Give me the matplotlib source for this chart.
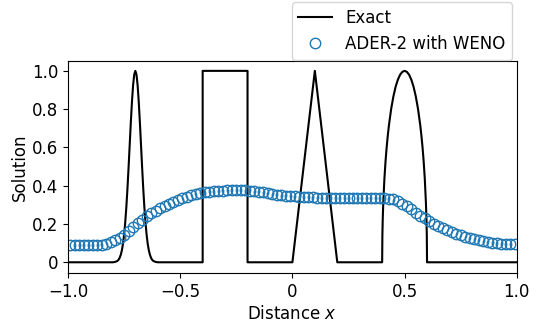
import matplotlib
matplotlib.use("Agg")
import matplotlib.pyplot as plt
import numpy as np

# точки точного решения
gauss_x = [-0.80, -0.79, -0.78, -0.775, -0.77, -0.765, -0.76, -0.755, -0.75, -0.745,
           -0.74, -0.735, -0.73, -0.725, -0.72, -0.715, -0.71, -0.705, -0.70,
           -0.695, -0.69, -0.685, -0.68, -0.675, -0.67, -0.665, -0.66, -0.655,
           -0.65, -0.645, -0.64, -0.635, -0.63, -0.625, -0.62, -0.61, -0.60]
gauss_y = [0.0, 0.002, 0.007, 0.013, 0.023, 0.039, 0.063, 0.097, 0.146, 0.210,
           0.291, 0.389, 0.50, 0.618, 0.735, 0.841, 0.926, 0.981, 1.0,
           0.981, 0.926, 0.841, 0.735, 0.618, 0.50, 0.389, 0.291, 0.210,
           0.146, 0.097, 0.063, 0.039, 0.023, 0.013, 0.007, 0.002, 0.0]
square_x = [-0.40, -0.40, -0.20, -0.20]
square_y = [0.0, 1.0, 1.0, 0.0]
tri_x = [0.0, 0.10, 0.20]
tri_y = [0.0, 1.0, 0.0]
ellipse_x = [0.40, 0.401, 0.4025, 0.405, 0.41, 0.415, 0.42, 0.425, 0.43, 0.44, 0.45,
             0.46, 0.47, 0.48, 0.49, 0.50, 0.51, 0.52, 0.53, 0.54, 0.55, 0.56,
             0.57, 0.575, 0.58, 0.585, 0.59, 0.595, 0.5975, 0.599, 0.60]
ellipse_y = [0.0, 0.141, 0.222, 0.312, 0.436, 0.527, 0.60, 0.661, 0.714, 0.80, 0.866,
             0.917, 0.954, 0.980, 0.995, 1.0, 0.995, 0.980, 0.954, 0.917, 0.866, 0.80,
             0.714, 0.661, 0.60, 0.527, 0.436, 0.312, 0.222, 0.141, 0.0]

exact_x = [-1.0] + gauss_x + square_x + tri_x + ellipse_x + [1.0]
exact_y = [0.0] + gauss_y + square_y + tri_y + ellipse_y + [0.0]

# численное решение ADER-2 (центры ячеек)
num_x = np.arange(-0.99, 1.0, 0.02)
num_y = [0.090, 0.090, 0.090, 0.090, 0.090, 0.090, 0.090,
         0.092, 0.097, 0.105, 0.115, 0.128, 0.145, 0.163, 0.182, 0.203, 0.222,
         0.240, 0.255, 0.268, 0.281, 0.293, 0.305, 0.316, 0.326, 0.335, 0.343,
         0.350, 0.356, 0.361, 0.365, 0.368, 0.371, 0.373, 0.374, 0.375, 0.376,
         0.376, 0.376, 0.375, 0.374, 0.372, 0.369, 0.366, 0.362, 0.358, 0.354,
         0.351, 0.348, 0.346, 0.344, 0.342, 0.341, 0.340, 0.339, 0.338, 0.337,
         0.337, 0.336, 0.336, 0.335,
         0.335, 0.335, 0.335, 0.335, 0.335, 0.335, 0.335, 0.335, 0.335, 0.335,
         0.333, 0.328, 0.319, 0.307, 0.292, 0.276, 0.260, 0.244, 0.229, 0.215,
         0.202, 0.190, 0.179, 0.168, 0.158, 0.149, 0.141, 0.134, 0.127, 0.121,
         0.116, 0.111, 0.107, 0.103, 0.100, 0.098, 0.096, 0.094, 0.093]

xticks = [-1.0, -0.5, 0.0, 0.5, 1.0]
xlabels = ['−1.0', '−0.5', '0', '0.5', '1.0']
yticks = [0.0, 0.2, 0.4, 0.6, 0.8, 1.0]
ylabels = ['0', '0.2', '0.4', '0.6', '0.8', '1.0']

fig = plt.figure(figsize=(5.4, 3.24), dpi=100)
ax = fig.add_axes([0.126, 0.158, 0.831, 0.654])

ax.plot(exact_x, exact_y, color='black', lw=1.5, label='Exact')
ax.plot(num_x, num_y, 'o', mfc='none', mec='#1f77b4', ms=7.5, mew=1.0,
        label='ADER-2 with WENO')

ax.set_xlim(-1.0, 1.0)
ax.set_ylim(-0.055, 1.052)
ax.set_xticks(xticks)
ax.set_xticklabels(xlabels)
ax.set_yticks(yticks)
ax.set_yticklabels(ylabels)
ax.tick_params(labelsize=12)
ax.set_xlabel('Distance $x$', fontsize=12, labelpad=3)
ax.set_ylabel('Solution', fontsize=12, labelpad=2)

ax.legend(loc='lower right', bbox_to_anchor=(0.948, 0.815),
          bbox_transform=fig.transFigure, borderaxespad=0, numpoints=1,
          fontsize=12)

fig.savefig('out.png', dpi=100)
